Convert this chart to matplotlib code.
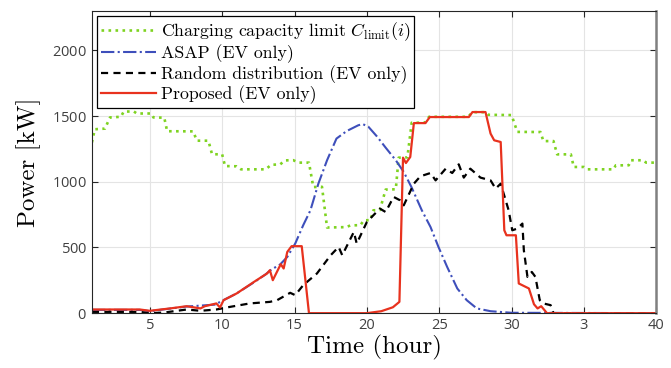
import matplotlib.pyplot as plt

plt.rcParams['mathtext.fontset'] = 'cm'
plt.rcParams['axes.formatter.use_mathtext'] = True

# charging capacity limit (stairs)
t_limit = [1.0, 1.2, 1.9, 2.25, 3.0, 3.2, 3.9, 4.1, 5.1, 5.25, 6.0, 6.2, 8.0, 8.25, 9.05, 9.3, 10.0, 10.2,
           11.0, 11.3, 13.0, 13.4, 14.0, 14.35, 14.9, 15.3, 16.0, 16.3, 16.9, 17.25, 18.6, 18.85, 19.55,
           19.8, 20.25, 20.45, 20.9, 21.3, 22.0, 22.2, 22.8, 23.1, 24.0, 24.3, 27.0, 27.3, 28.2, 28.4,
           30.0, 30.4, 32.0, 32.2, 32.9, 33.15, 34.1, 34.3, 35.0, 35.25, 37.05, 37.2, 38.1, 38.25, 39.1,
           39.3, 40.0]
p_limit = [1300, 1400, 1405, 1490, 1495, 1535, 1535, 1520, 1520, 1490, 1488, 1385, 1384, 1313, 1313, 1210,
           1209, 1120, 1118, 1095, 1095, 1130, 1132, 1163, 1165, 1146, 1146, 960, 962, 652, 655, 668, 670,
           707, 708, 783, 785, 941, 943, 1184, 1186, 1450, 1450, 1495, 1495, 1530, 1530, 1510,
           1508, 1380, 1379, 1310, 1310, 1209, 1209, 1113, 1113, 1095, 1095, 1125, 1126, 1164, 1164,
           1146, 1146]

# ASAP
t_asap = [1, 4.3, 5.0, 6.4, 7.5, 9.5, 10.1, 11.0, 12.2, 13.0, 13.4, 14.0, 14.5, 15.05, 15.6, 16.1, 16.65,
          17.25, 17.9, 18.6, 19.4, 19.7, 20.1, 20.7, 21.3, 22.0, 22.55, 23.1, 23.8, 24.4, 24.95, 25.55,
          26.25, 26.9, 27.6, 28.55, 30, 40]
p_asap = [25, 25, 15, 35, 50, 65, 100, 150, 235, 295, 332, 370, 428, 530, 669, 783, 986,
          1164, 1329, 1386, 1430, 1440, 1420, 1345, 1260, 1164, 1075, 956, 783, 656, 504, 352,
          188, 99, 36, 15, 3, 0]

# Random distribution
t_rand = [1, 4.3, 5.0, 6.0, 7.55, 8.5, 9.6, 10.55, 11.9, 13.3, 13.8, 14.7, 15.05, 15.6, 16.55, 17.5, 18.05,
          18.3, 19.1, 19.3, 20.0, 20.9, 21.3, 21.85, 22.3, 22.55, 23.25, 23.7, 24.4, 24.75, 25.45, 25.9,
          26.35, 26.7, 27.15, 27.85, 28.55, 28.9, 29.25, 29.8, 30.05, 30.4, 30.75, 30.85, 31.1, 31.4,
          31.65, 31.95, 32.2, 32.7, 32.9, 40]
p_rand = [10, 10, 0, 5, 28, 18, 28, 48, 74, 86, 99, 155, 137, 213, 302, 441, 504,
          441, 618, 530, 694, 796, 770, 885, 859, 821, 986, 1042, 1067, 1011, 1100, 1067,
          1133, 1032, 1100, 1032, 1011, 948, 986, 783, 631, 644, 682, 479, 276, 314,
          276, 99, 74, 61, 0, 0]

# Proposed
t_prop = [1, 4.3, 5.0, 6.4, 7.55, 8.5, 8.8, 9.6, 9.85, 10.1, 11.0, 12.2, 13.1, 13.3, 13.5, 14.05, 14.25,
          14.5, 14.8, 15.5, 16.0, 20.0, 21.0, 21.8, 22.25, 22.5, 22.7, 23.0, 23.25, 24.05, 24.35, 27.05,
          27.3, 28.2, 28.55, 28.8, 29.25, 29.5, 29.65, 30.3, 30.5, 31.2, 31.55, 31.8, 32.05, 32.45, 40]
p_prop = [28, 28, 18, 36, 53, 36, 53, 74, 43, 99, 150, 238, 302, 327, 251, 373, 340,
          466, 510, 510, 0, 0, 15, 45, 86, 1184, 1143, 1189, 1447, 1447, 1493, 1493,
          1531, 1531, 1367, 1316, 1303, 631, 593, 593, 226, 188, 68, 36, 53, 0, 0]

xticks = [5, 10, 15, 20, 25, 30, 35, 40]
xtick_labels = ['5', '10', '15', '20', '25', '30', '3', '40']
yticks = [0, 500, 1000, 1500, 2000]

fig = plt.figure(figsize=(6.71, 3.68), dpi=100)
ax = fig.add_axes([0.137, 0.149, 0.841, 0.821])

ax.plot(t_limit, p_limit, color='#7ed321', linestyle=':', lw=1.9,
        label=r'Charging capacity limit $C_{\rm limit}(i)$')
ax.plot(t_asap, p_asap, color='#3e4fbb', linestyle='-.', lw=1.5, label='ASAP (EV only)')
ax.plot(t_rand, p_rand, color='black', linestyle=(0, (3.2, 2.4)), lw=1.6, label='Random distribution (EV only)')
ax.plot(t_prop, p_prop, color='#e8321e', linestyle='-', lw=1.6, label='Proposed (EV only)')

ax.set_xlim(1, 40)
ax.set_ylim(0, 2300)
ax.set_xticks(xticks)
ax.set_xticklabels(xtick_labels)
ax.set_yticks(yticks)
ax.grid(True, color='#e4e4e4', lw=0.8)
ax.set_axisbelow(True)
ax.tick_params(direction='in', top=True, right=True, length=4, colors='#262626',
               labelcolor='#404040', labelsize=10.5)
for lab in ax.get_xticklabels() + ax.get_yticklabels():
    lab.set_family('Open Sans')
for s in ax.spines.values():
    s.set_color('#262626')
    s.set_linewidth(0.8)
ax.spines['right'].set_color('#808080')
ax.spines['right'].set_linewidth(1.8)

ax.set_xlabel('Time (hour)', family='cmr10', size=18, labelpad=1)
ax.set_ylabel('Power [kW]', family='cmr10', size=18, labelpad=8)

leg = ax.legend(loc='upper left', prop={'family': 'cmr10', 'size': 12.8}, frameon=True, fancybox=False,
                edgecolor='black', framealpha=1, borderaxespad=0.3, handlelength=3.1,
                handletextpad=0.3, labelspacing=0.1, borderpad=0.2)
leg.get_frame().set_linewidth(0.9)

fig.savefig('out.png', dpi=100)
